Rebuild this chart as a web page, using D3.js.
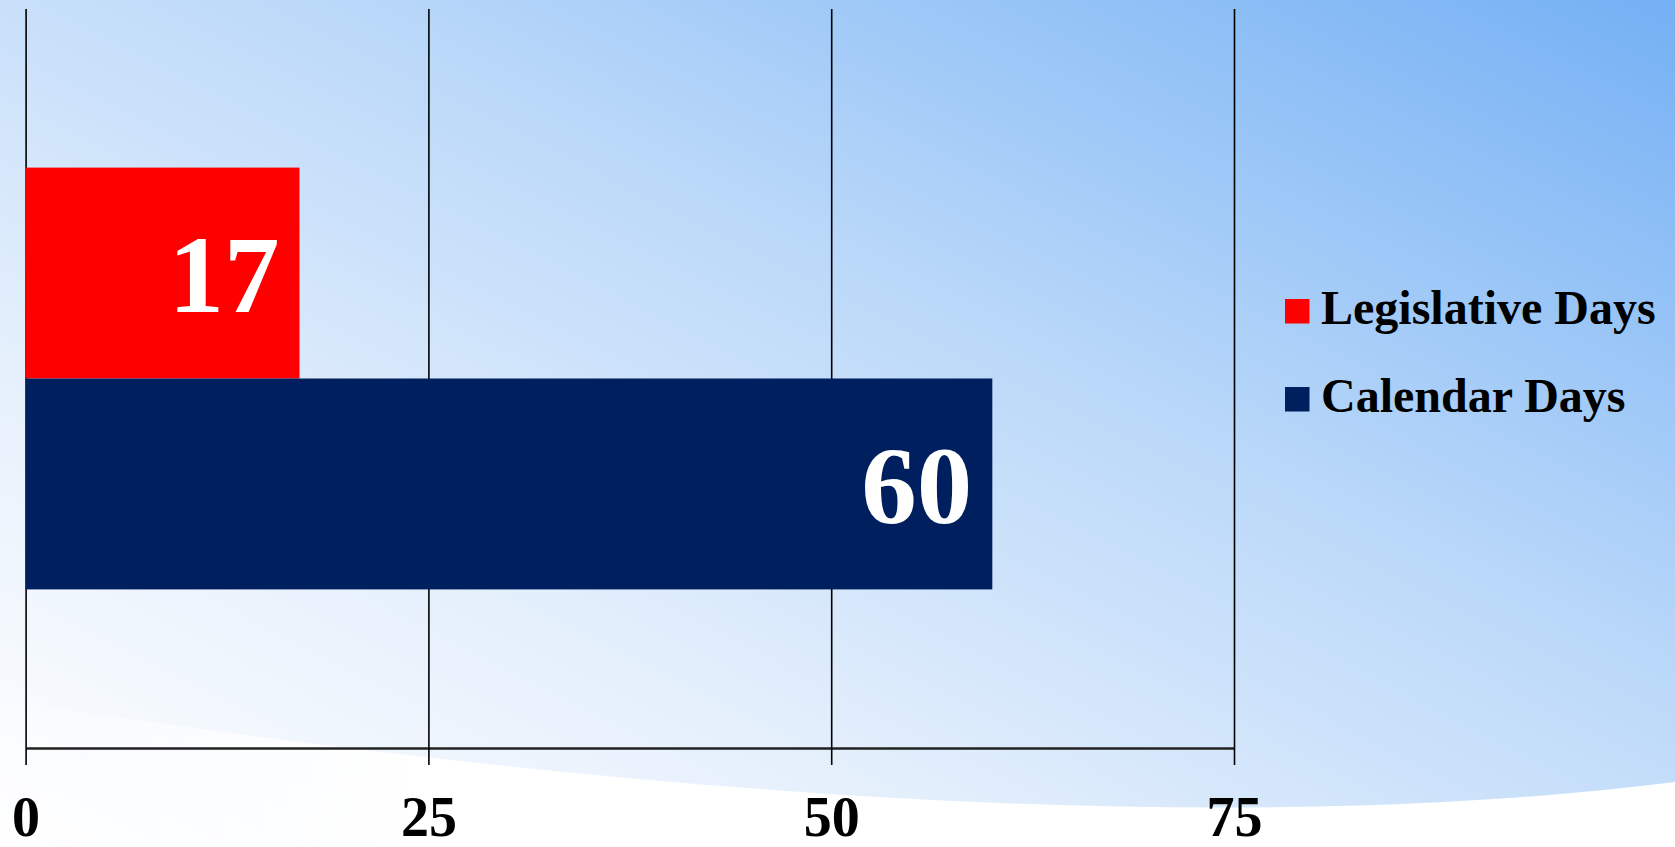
<!DOCTYPE html>
<html>
<head>
<meta charset="utf-8">
<script src="https://cdn.jsdelivr.net/npm/d3@7"></script>
<style>
  body { margin: 0; overflow: hidden; }
  svg { display: block; }
</style>
</head>
<body>
<script>
// chart values
let seriesNames = ["Legislative Days", "Calendar Days"];
let seriesValues = [17, 60];
let seriesColors = ["#ff0000", "#001f5f"];
let tickValues = [0, 25, 50, 75];

let width = 1675;
let height = 847;

let svg = d3.select("body").append("svg")
    .attr("width", width)
    .attr("height", height);

// background: soft blue gradient with a white swoosh at the bottom
let defs = svg.append("defs");
let grad = defs.append("linearGradient")
    .attr("id", "bg")
    .attr("x1", "0").attr("y1", "1")
    .attr("x2", "1").attr("y2", "0");
grad.append("stop").attr("offset", "0").attr("stop-color", "#ffffff");
grad.append("stop").attr("offset", "0.3").attr("stop-color", "#e4effc");
grad.append("stop").attr("offset", "0.6").attr("stop-color", "#bad8f9");
grad.append("stop").attr("offset", "1").attr("stop-color", "#74b0f4");

svg.append("rect")
    .attr("width", width)
    .attr("height", height)
    .attr("fill", "url(#bg)");

let swoosh = defs.append("linearGradient")
    .attr("id", "swoosh")
    .attr("x1", "0").attr("y1", "0")
    .attr("x2", "1").attr("y2", "0");
swoosh.append("stop").attr("offset", "0").attr("stop-color", "#ffffff").attr("stop-opacity", 0.2);
swoosh.append("stop").attr("offset", "0.25").attr("stop-color", "#ffffff").attr("stop-opacity", 1);
swoosh.append("stop").attr("offset", "1").attr("stop-color", "#ffffff").attr("stop-opacity", 1);

svg.append("path")
    .attr("d", "M0,700 Q1050,860 1675,782 L1675,847 L0,847 Z")
    .attr("fill", "url(#swoosh)");

// plot area
let plotTop = 9;
let axisY = 748;

let x = d3.scaleLinear()
    .domain([0, 75])
    .range([25.6, 1234]);

let group = d3.scaleBand()
    .domain(["days"])
    .range([plotTop, axisY])
    .paddingOuter(0.376);

let y = d3.scaleBand()
    .domain(seriesNames)
    .range([group("days"), group("days") + group.bandwidth()]);

// gridlines
svg.append("g")
    .attr("transform", `translate(0,${axisY})`)
    .call(d3.axisBottom(x)
        .tickValues(tickValues)
        .tickSize(-(axisY - plotTop))
        .tickFormat(""))
    .call(g => g.select(".domain").remove())
    .call(g => g.selectAll(".tick line")
        .attr("stroke", "#000")
        .attr("stroke-width", 1.6));

// bars
svg.selectAll(".bar")
    .data(seriesValues)
    .join("rect")
    .attr("class", "bar")
    .attr("x", x(0))
    .attr("y", (d, i) => y(seriesNames[i]))
    .attr("width", d => x(d) - x(0))
    .attr("height", y.bandwidth())
    .attr("fill", (d, i) => seriesColors[i]);

// value labels
svg.selectAll(".value")
    .data(seriesValues)
    .join("text")
    .attr("class", "value")
    .attr("x", d => x(d) - 20)
    .attr("y", (d, i) => y(seriesNames[i]) + y.bandwidth() / 2)
    .attr("dy", "0.35em")
    .attr("text-anchor", "end")
    .attr("font-family", "'Liberation Serif', 'DejaVu Serif', serif")
    .attr("font-weight", "bold")
    .attr("font-size", 111)
    .attr("fill", "#fff")
    .text(d => d);

// x axis
svg.append("g")
    .attr("transform", `translate(0,${axisY})`)
    .call(d3.axisBottom(x)
        .tickValues(tickValues)
        .tickSizeInner(17)
        .tickSizeOuter(0))
    .call(g => g.select(".domain")
        .attr("stroke", "#222")
        .attr("stroke-width", 2.5))
    .call(g => g.selectAll(".tick line")
        .attr("stroke", "#000")
        .attr("stroke-width", 1.6))
    .call(g => g.selectAll(".tick text")
        .attr("y", 88)
        .attr("dy", 0)
        .attr("fill", "#000")
        .attr("font-family", "'Liberation Serif', 'DejaVu Serif', serif")
        .attr("font-weight", "bold")
        .attr("font-size", 56));

// legend
let legend = svg.append("g")
    .attr("class", "legend")
    .attr("transform", "translate(1285,299)");

let items = legend.selectAll(".legend-item")
    .data(seriesNames)
    .join("g")
    .attr("class", "legend-item")
    .attr("transform", (d, i) => `translate(0,${i * 88})`);

items.append("rect")
    .attr("width", 24.5)
    .attr("height", 24.5)
    .attr("fill", (d, i) => seriesColors[i]);

items.append("text")
    .attr("x", 36)
    .attr("y", 24.5)
    .attr("font-family", "'Liberation Serif', 'DejaVu Serif', serif")
    .attr("font-weight", "bold")
    .attr("font-size", 48)
    .attr("fill", "#000")
    .text(d => d);
</script>
</body>
</html>
